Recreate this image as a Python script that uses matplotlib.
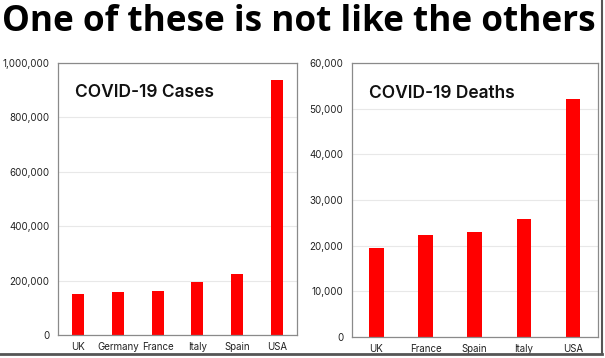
import matplotlib.pyplot as plt
from matplotlib.lines import Line2D
from matplotlib.ticker import FuncFormatter

# Cases by country
case_countries = ['UK', 'Germany', 'France', 'Italy', 'Spain', 'USA']
case_values = [150000, 157000, 162000, 196000, 224000, 937000]
case_ticks = [0, 200000, 400000, 600000, 800000, 1000000]

# Deaths by country
death_countries = ['UK', 'France', 'Spain', 'Italy', 'USA']
death_values = [19500, 22300, 22900, 25900, 52100]
death_ticks = [0, 10000, 20000, 30000, 40000, 50000, 60000]

BAR = '#ff0000'
SPINE = '#8a8a8a'
TICK = '#222222'

fig = plt.figure(figsize=(6.05, 3.58), dpi=100)
fig.patch.set_facecolor('white')

comma = FuncFormatter(lambda v, p: f'{int(v):,}')


def style_axes(ax, ticks, title):
    ax.set_ylim(ticks[0], ticks[-1])
    ax.set_yticks(ticks)
    ax.yaxis.set_major_formatter(comma)
    ax.grid(axis='y', color='#e8e8e8', linewidth=0.8)
    ax.set_axisbelow(True)
    for s in ax.spines.values():
        s.set_color(SPINE)
        s.set_linewidth(0.9)
    ax.tick_params(axis='both', length=0, colors=TICK, labelsize=7)
    ax.tick_params(axis='y', pad=6)
    ax.tick_params(axis='x', pad=5)
    ax.text(0.07, 0.89, title, transform=ax.transAxes, fontsize=12.5,
            fontweight='semibold', family='Inter', color='#111111', va='center')
    for lbl in ax.get_xticklabels() + ax.get_yticklabels():
        lbl.set_family('Inter')


ax1 = fig.add_axes([0.0959, 0.0642, 0.395, 0.760])
ax1.bar(range(len(case_countries)), case_values, width=0.3, color=BAR)
ax1.set_xticks(range(len(case_countries)))
ax1.set_xticklabels(case_countries)
ax1.set_xlim(-0.5, len(case_countries) - 0.5)
style_axes(ax1, case_ticks, 'COVID-19 Cases')

ax2 = fig.add_axes([0.5813, 0.0595, 0.4066, 0.7637])
ax2.bar(range(len(death_countries)), death_values, width=0.3, color=BAR)
ax2.set_xticks(range(len(death_countries)))
ax2.set_xticklabels(death_countries)
ax2.set_xlim(-0.5, len(death_countries) - 0.5)
style_axes(ax2, death_ticks, 'COVID-19 Deaths')

fig.text(0.494, 1 - 22 / 358, 'One of these is not like the others',
         ha='center', va='center', fontsize=25.3, fontweight='bold',
         family='Open Sans', color='black')

# picture frame shadow
fig.add_artist(Line2D([0, 0.995], [0.012, 0.012], transform=fig.transFigure,
                      color='#555555', linewidth=2))
fig.add_artist(Line2D([0.995, 0.995], [0.012, 1], transform=fig.transFigure,
                      color='#555555', linewidth=1.5))

fig.savefig('out.png', dpi=100)
